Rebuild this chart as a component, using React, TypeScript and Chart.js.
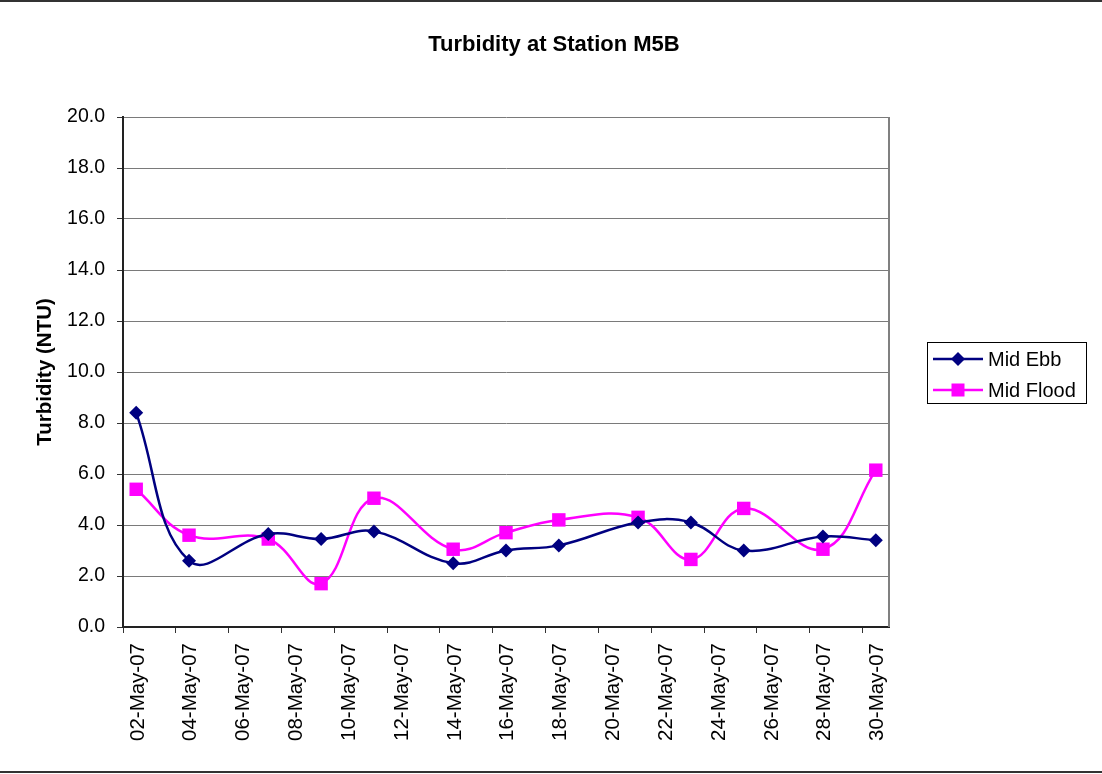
import React, { useEffect, useRef } from "react";
import { Chart, registerables } from "chart.js";

Chart.register(...registerables);

const chartTitle = "Turbidity at Station M5B";
const yAxisTitle = "Turbidity (NTU)";
const monthSuffix = "May-07";
const seriesNames = ["Mid Ebb", "Mid Flood"];
const seriesColors = ["#000080", "#FF00FF"];
// sampling time as day of May 2007 (fraction = time of day)
const sampleDay = [2.5, 4.5, 7.5, 9.5, 11.5, 14.5, 16.5, 18.5, 21.5, 23.5, 25.5, 28.5, 30.5];
const midEbb = [8.4, 2.6, 3.65, 3.45, 3.75, 2.5, 3.0, 3.2, 4.1, 4.1, 3.0, 3.55, 3.4];
const midFlood = [5.4, 3.6, 3.45, 1.7, 5.05, 3.05, 3.7, 4.2, 4.3, 2.65, 4.65, 3.05, 6.15];
const xMinDay = 2;
const xMaxDay = 31;
const xStepDays = 2;
const yMin = 0;
const yMax = 20;
const yStep = 2;

const FONT = '"Liberation Sans", Arial, sans-serif';

const decorPlugin = {
  id: "decor",
  beforeDraw(chart: any) {
    const { ctx, width, height } = chart;
    ctx.save();
    ctx.fillStyle = "#ffffff";
    ctx.fillRect(0, 0, width, height);
    ctx.restore();
  },
  afterDraw(chart: any) {
    const { ctx, chartArea: a, width } = chart;
    ctx.save();
    // plot area right border
    ctx.strokeStyle = "#808080";
    ctx.lineWidth = 2;
    ctx.beginPath();
    ctx.moveTo(a.right, a.top);
    ctx.lineTo(a.right, a.bottom);
    ctx.stroke();
    // outer frame lines
    ctx.strokeStyle = "#333333";
    ctx.lineWidth = 2;
    ctx.beginPath();
    ctx.moveTo(0, 1);
    ctx.lineTo(width, 1);
    ctx.moveTo(0, 772);
    ctx.lineTo(width, 772);
    ctx.stroke();
    // title
    ctx.fillStyle = "#000000";
    ctx.font = `bold 22px ${FONT}`;
    ctx.textAlign = "center";
    ctx.textBaseline = "middle";
    ctx.fillText(chartTitle, 554, 45);
    // legend
    const lx = 927, ly = 342, lw = 159, lh = 61;
    ctx.strokeStyle = "#000000";
    ctx.lineWidth = 1;
    ctx.strokeRect(lx + 0.5, ly + 0.5, lw, lh);
    const rows = [359, 390];
    chart.data.datasets.forEach((ds: any, i: number) => {
      const y = rows[i];
      ctx.strokeStyle = ds.borderColor;
      ctx.lineWidth = 2.5;
      ctx.beginPath();
      ctx.moveTo(933, y);
      ctx.lineTo(983, y);
      ctx.stroke();
      ctx.fillStyle = ds.pointBackgroundColor;
      const cx = 958;
      if (ds.pointStyle === "rectRot") {
        const r = 7;
        ctx.beginPath();
        ctx.moveTo(cx, y - r);
        ctx.lineTo(cx + r, y);
        ctx.lineTo(cx, y + r);
        ctx.lineTo(cx - r, y);
        ctx.closePath();
        ctx.fill();
      } else {
        ctx.fillRect(cx - 6.5, y - 6.5, 13, 13);
      }
      ctx.fillStyle = "#000000";
      ctx.font = `20px ${FONT}`;
      ctx.textAlign = "left";
      ctx.textBaseline = "middle";
      ctx.fillText(ds.label, 988, y + 1);
    });
    ctx.restore();
  },
};

export default function App() {
  const canvasRef = useRef<HTMLCanvasElement | null>(null);

  useEffect(() => {
    document.body.style.margin = "0";
    const canvas = canvasRef.current;
    if (!canvas) return;
    const toPoints = (vals: number[]) => sampleDay.map((d, i) => ({ x: d, y: vals[i] }));
    const chart = new Chart(canvas, {
      type: "line",
      data: {
        datasets: [
          {
            label: seriesNames[0],
            data: toPoints(midEbb),
            borderColor: seriesColors[0],
            backgroundColor: seriesColors[0],
            pointBackgroundColor: seriesColors[0],
            pointBorderColor: seriesColors[0],
            pointStyle: "rectRot",
            pointRadius: 7,
            pointBorderWidth: 0,
            borderWidth: 2.5,
            tension: 0.4,
            fill: false,
          },
          {
            label: seriesNames[1],
            data: toPoints(midFlood),
            borderColor: seriesColors[1],
            backgroundColor: seriesColors[1],
            pointBackgroundColor: seriesColors[1],
            pointBorderColor: seriesColors[1],
            pointStyle: "rect",
            pointRadius: 9.5,
            pointBorderWidth: 0,
            borderWidth: 2.5,
            tension: 0.4,
            fill: false,
          },
        ],
      },
      options: {
        animation: false,
        responsive: false,
        devicePixelRatio: 1,
        layout: { padding: { top: 117, right: 213, bottom: 0, left: 0 } },
        plugins: {
          legend: { display: false },
          title: { display: false },
          tooltip: { enabled: false },
        },
        scales: {
          x: {
            type: "linear",
            min: xMinDay,
            max: xMaxDay,
            afterFit: (s: any) => {
              s.height = 147;
            },
            ticks: {
              stepSize: xStepDays,
              includeBounds: false,
              autoSkip: false,
              minRotation: 90,
              maxRotation: 90,
              padding: 10,
              labelOffset: 15,
              color: "#000000",
              font: { family: FONT, size: 20.5 },
              callback: (v: any) => `${String(Math.round(Number(v))).padStart(2, "0")}-${monthSuffix}`,
            },
            grid: {
              drawOnChartArea: false,
              drawTicks: true,
              tickLength: 6,
              tickColor: "#333333",
              lineWidth: 1,
            },
            border: { display: true, color: "#222222", width: 2 },
          },
          y: {
            type: "linear",
            min: yMin,
            max: yMax,
            afterFit: (s: any) => {
              s.width = 123;
            },
            ticks: {
              stepSize: yStep,
              padding: 12,
              color: "#000000",
              font: { family: FONT, size: 19.5 },
              callback: (v: any) => Number(v).toFixed(1),
            },
            grid: {
              color: "#7a7a7a",
              lineWidth: 1,
              drawTicks: true,
              tickLength: 6,
              tickColor: "#333333",
            },
            border: { display: true, color: "#222222", width: 2 },
            title: {
              display: true,
              text: yAxisTitle,
              color: "#000000",
              font: { family: FONT, size: 20.5, weight: "bold" },
              padding: { top: 33, bottom: 0 },
            },
          },
        },
      },
      plugins: [decorPlugin],
    });
    return () => chart.destroy();
  }, []);

  return (
    <div style={{ width: 1102, height: 774 }}>
      <canvas ref={canvasRef} width={1102} height={774} />
    </div>
  );
}
